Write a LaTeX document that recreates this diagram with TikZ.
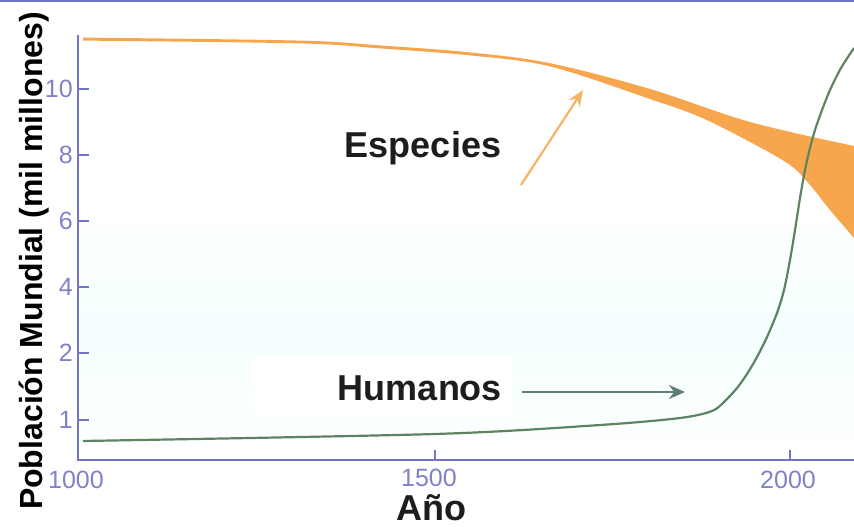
\documentclass[tikz,border=0pt]{standalone}
\usepackage{fontspec}
\setmainfont{Liberation Sans}
\usetikzlibrary{arrows.meta}
\definecolor{axisblue}{RGB}{112,118,196}
\definecolor{ticklab}{RGB}{128,130,200}
\definecolor{orangeband}{RGB}{248,166,78}
\definecolor{orangearrow}{RGB}{247,178,100}
\definecolor{humgreen}{RGB}{92,132,96}
\definecolor{harrow}{RGB}{96,126,112}
\definecolor{textblack}{RGB}{30,28,30}
\tikzset{
  axisline/.style={draw=axisblue, line width=2pt},
  ticklabel/.style={text=ticklab, font=\fontsize{25}{28}\selectfont, inner sep=0pt},
  biglabel/.style={text=textblack, font=\fontsize{36}{40}\selectfont\bfseries, inner sep=0pt},
}
\begin{document}
\begin{tikzpicture}[x=1pt,y=-1pt]
\useasboundingbox (0,0) rectangle (854,527);
% faint background tint
\shade[top color=white, bottom color=cyan!4] (80,200) rectangle (854,330);
\shade[top color=cyan!4, bottom color=white] (80,330) rectangle (854,458);
% top border
\draw[axisblue, line width=3pt] (0,1) -- (854,1);
% axes
\draw[axisline] (78,35) -- (78,460) -- (854,460);
% y ticks
\foreach \y/\t in {89/10,155/8,221/6,287/4,353/2,420/1}{
  \draw[axisblue, line width=1.6pt] (78,\y) -- (89,\y);
  \node[ticklabel, anchor=east] (yl\t) at (73,\y) {\t};
}
% x ticks
\foreach \x/\t in {435/1500,790/2000}{
  \draw[axisblue, line width=1.6pt] (\x,460) -- (\x,450);
}
\node[ticklabel] (x1000) at (76,480) {1000};
\node[ticklabel] (x1500) at (429,478) {1500};
\node[ticklabel] (x2000) at (788,480) {2000};
% species band (thin line widening into a band)
\fill[orangeband] plot[smooth, tension=0.55] coordinates {(83,37.6) (300,40.6) (380,45.4) (470,52.4) (550,63.2) (650,89) (750,122) (854,146)}
  -- plot[smooth, tension=0.55] coordinates {(854,238) (830,210) (810,185) (790,165) (750,142) (700,117) (650,99) (550,66.4) (470,55.4) (380,48.4) (300,43.4) (83,40.6)} -- cycle;
% humans curve
\draw[humgreen, line width=2.2pt] plot[smooth, tension=0.5] coordinates {(83,441) (435,434) (600,425) (680,418) (712,411) (725,401) (737,388) (747,374) (757,357) (767,337) (777,313) (784,290) (790,260) (795,230) (800,198) (805,170) (810,148) (815,130) (822,110) (830,90) (841,68) (854,48)};
% labels
\node[biglabel] (esp) at (423,148) {Especies};
\fill[white] (251,357) rectangle (512,412);
\node[biglabel] (hum) at (420,388) {Humanos};
\coordinate (espT) at (583,90);
\coordinate (humT) at (685,392);
\draw[orangearrow, line width=2.2pt, -{Stealth[length=16pt,width=13pt]}] (521,185) -- (espT);
\draw[harrow, line width=2.6pt, -{Stealth[length=16pt,width=14pt]}] (522,392) -- (humT);
\node[biglabel, anchor=base] (ano) at (431,520) {Año};
\node[text=black, font=\fontsize{32}{36}\selectfont\bfseries, inner sep=0pt, rotate=90, anchor=base] (ylab) at (42,261) {Población Mundial (mil millones)};
\end{tikzpicture}
\end{document}
